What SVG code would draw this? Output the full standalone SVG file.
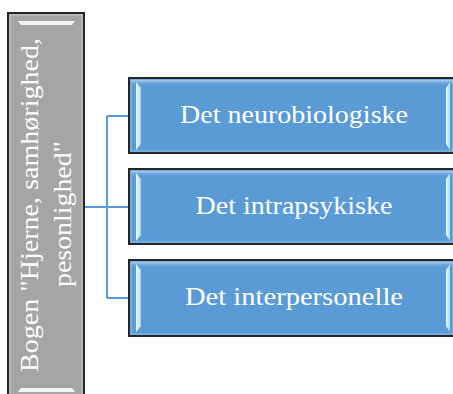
<svg xmlns="http://www.w3.org/2000/svg" width="453" height="394" viewBox="0 0 453 394">
  <defs>
    <linearGradient id="bevelV" x1="0" y1="0" x2="1" y2="0">
      <stop offset="0" stop-color="#f0faff"/>
      <stop offset="1" stop-color="#a6d8f7"/>
    </linearGradient>
    <linearGradient id="topGlow" x1="0" y1="0" x2="0" y2="1">
      <stop offset="0" stop-color="#a9cdf0"/>
      <stop offset="1" stop-color="#5b9bd5" stop-opacity="0"/>
    </linearGradient>
  </defs>
  <style>
    .box { fill: #5b9bd5; stroke: #262626; stroke-width: 2; }
    .inner { fill: none; stroke: #8fbde8; stroke-width: 1; }
    .bev { fill: url(#bevelV); }
    .glow { fill: url(#topGlow); }
    .label { font-family: "Liberation Serif", "DejaVu Serif", serif; font-size: 25px; fill: #ffffff; text-anchor: middle; }
    .root { fill: #a5a5a5; stroke: #262626; stroke-width: 2; }
    .conn { fill: none; stroke: #5b9bd5; stroke-width: 2; }
  </style>

  <!-- connectors from the root to the three branches -->
  <g id="connectors">
    <path class="conn" d="M84 207 H107"/>
    <path class="conn" d="M107 116 V298"/>
    <path class="conn" d="M107 116 H129"/>
    <path class="conn" d="M107 207 H129"/>
    <path class="conn" d="M107 298 H129"/>
  </g>

  <!-- root node, vertical text -->
  <g id="root">
    <rect class="root" x="8" y="13" width="76" height="390"/>
    <rect x="10" y="15" width="72" height="386" fill="none" stroke="#c8c8c8" stroke-width="1"/>
    <path d="M18 21 H75 L72 25 H21 Z" fill="#f4f4f4"/>
    <path d="M18 392 H75 L72 388 H21 Z" fill="#f4f4f4"/>
    <text class="label" transform="translate(38 205) rotate(-90)" x="0" y="0" textLength="334" lengthAdjust="spacingAndGlyphs">Bogen "Hjerne, samhørighed,</text>
    <text class="label" transform="translate(71 214) rotate(-90)" x="0" y="0" textLength="146" lengthAdjust="spacingAndGlyphs">pesonlighed"</text>
  </g>

  <!-- branch 1 -->
  <g id="neuro">
    <rect class="box" x="129" y="78" width="326" height="75"/>
    <rect class="inner" x="131" y="80" width="322" height="71"/>
    <rect class="glow" x="131" y="80" width="322" height="6"/>
    <path class="bev" d="M136 82 L141 88 V144 L136 150 Z"/>
    <path class="bev" d="M450 82 L446 88 V144 L450 150 Z"/>
    <text class="label" x="294" y="123" textLength="228" lengthAdjust="spacingAndGlyphs">Det neurobiologiske</text>
  </g>

  <!-- branch 2 -->
  <g id="intra">
    <rect class="box" x="129" y="169" width="326" height="75"/>
    <rect class="inner" x="131" y="171" width="322" height="71"/>
    <rect class="glow" x="131" y="171" width="322" height="6"/>
    <path class="bev" d="M136 173 L141 179 V235 L136 241 Z"/>
    <path class="bev" d="M450 173 L446 179 V235 L450 241 Z"/>
    <text class="label" x="294" y="214" textLength="197" lengthAdjust="spacingAndGlyphs">Det intrapsykiske</text>
  </g>

  <!-- branch 3 -->
  <g id="inter">
    <rect class="box" x="129" y="260" width="326" height="76"/>
    <rect class="inner" x="131" y="262" width="322" height="72"/>
    <rect class="glow" x="131" y="262" width="322" height="6"/>
    <path class="bev" d="M136 264 L141 270 V326 L136 332 Z"/>
    <path class="bev" d="M450 264 L446 270 V326 L450 332 Z"/>
    <text class="label" x="294" y="305" textLength="218" lengthAdjust="spacingAndGlyphs">Det interpersonelle</text>
  </g>
</svg>
